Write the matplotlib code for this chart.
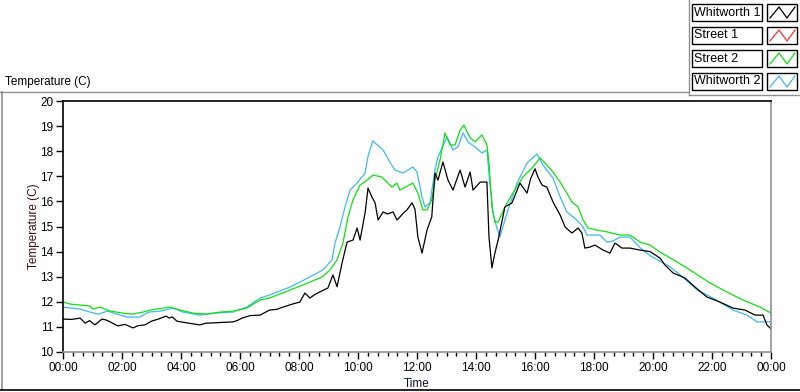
import numpy as np
import matplotlib
matplotlib.use("Agg")
import matplotlib.pyplot as plt
from matplotlib.lines import Line2D
from matplotlib.patches import Rectangle

# hours since midnight, temperature (C)
w1_hours = [0.0, 0.3, 0.58, 0.75, 0.9, 1.08, 1.32, 1.45, 1.6, 1.86, 2.1, 2.37, 2.55, 2.78, 3.0,
            3.2, 3.5, 3.6, 3.7, 3.86, 4.2, 4.64, 4.85, 5.1, 5.4, 5.76, 5.9, 6.07, 6.34, 6.68,
            7.0, 7.25, 7.46, 7.75, 8.03, 8.2, 8.37, 8.55, 8.7, 8.98, 9.15, 9.29, 9.46, 9.63,
            9.83, 9.97, 10.07, 10.24, 10.34, 10.47, 10.58, 10.68, 10.85, 11.0, 11.19, 11.32,
            11.42, 11.55, 11.66, 11.83, 11.93, 12.03, 12.17, 12.34, 12.5, 12.61, 12.71, 12.88,
            13.05, 13.22, 13.46, 13.63, 13.8, 13.9, 14.14, 14.37, 14.44, 14.54, 14.64, 14.75,
            14.98, 15.22, 15.49, 15.73, 15.85, 16.0, 16.1, 16.24, 16.4, 16.61, 16.85, 17.02,
            17.25, 17.46, 17.59, 17.69, 17.86, 18.03, 18.31, 18.54, 18.71, 18.95, 19.22, 19.56,
            19.9, 20.24, 20.4, 20.68, 21.08, 21.42, 21.83, 22.27, 22.71, 23.12, 23.46, 23.73,
            23.86, 24.0]
w1_temp = [11.31, 11.3, 11.35, 11.15, 11.25, 11.08, 11.31, 11.28, 11.2, 11.04, 11.1, 10.96, 11.05,
           11.08, 11.23, 11.3, 11.43, 11.35, 11.4, 11.23, 11.16, 11.08, 11.15, 11.16, 11.18, 11.2,
           11.25, 11.35, 11.45, 11.47, 11.67, 11.7, 11.79, 11.9, 11.99, 12.35, 12.15, 12.3, 12.39,
           12.55, 13.07, 12.6, 13.55, 14.38, 14.46, 14.94, 14.46, 15.54, 16.53, 16.18, 15.94,
           15.26, 15.58, 15.5, 15.58, 15.26, 15.38, 15.55, 15.66, 15.94, 15.7, 14.58, 13.94,
           14.86, 15.38, 17.13, 16.85, 17.57, 16.85, 16.45, 17.25, 16.57, 17.17, 16.45, 16.77,
           16.77, 14.58, 13.35, 13.94, 14.46, 15.78, 15.94, 16.73, 16.33, 16.9, 17.3, 16.97,
           16.65, 16.57, 15.98, 15.46, 14.98, 14.74, 14.94, 14.74, 14.14, 14.18, 14.26, 14.06,
           13.94, 14.34, 14.14, 14.14, 14.06, 14.0, 13.74, 13.47, 13.15, 12.95, 12.59, 12.19,
           11.99, 11.75, 11.67, 11.47, 11.47, 11.08, 10.92]

w2_hours = [0.0, 0.58, 0.92, 1.2, 1.5, 2.17, 2.6, 2.9, 3.3, 3.73, 4.07, 4.64, 5.1, 5.76, 6.23,
            6.68, 7.0, 7.7, 8.37, 8.81, 9.12, 9.22, 9.39, 9.56, 9.73, 9.97, 10.24, 10.34, 10.5,
            10.85, 11.08, 11.25, 11.53, 11.86, 12.0, 12.17, 12.27, 12.44, 12.61, 12.71, 13.02,
            13.22, 13.39, 13.56, 13.73, 13.97, 14.2, 14.37, 14.47, 14.58, 14.71, 14.81, 15.05,
            15.39, 15.73, 16.07, 16.27, 16.61, 16.85, 17.08, 17.42, 17.63, 17.76, 18.2, 18.44,
            18.64, 18.88, 19.22, 19.56, 19.9, 20.58, 21.0, 21.5, 22.03, 22.71, 23.19, 23.53, 24.0]
w2_temp = [11.79, 11.71, 11.59, 11.51, 11.63, 11.39, 11.39, 11.59, 11.63, 11.75, 11.59, 11.47,
           11.55, 11.59, 11.79, 12.15, 12.27, 12.59, 12.99, 13.27, 13.67, 14.34, 14.98, 15.78,
           16.45, 16.73, 17.13, 17.8, 18.41, 18.05, 17.57, 17.25, 17.13, 17.37, 17.17, 16.18,
           15.78, 15.94, 17.25, 17.77, 18.57, 18.05, 18.17, 18.73, 18.37, 18.17, 17.93, 18.05,
           16.73, 15.54, 14.94, 14.58, 15.54, 16.73, 17.53, 17.89, 17.45, 16.93, 16.18, 15.58,
           15.26, 14.98, 14.66, 14.66, 14.38, 14.42, 14.58, 14.58, 14.16, 13.84, 13.39, 12.99,
           12.47, 12.15, 11.67, 11.47, 11.2, 11.2]

s2_hours = [0.0, 0.24, 0.92, 1.0, 1.25, 1.6, 2.03, 2.37, 2.71, 2.95, 3.63, 3.97, 4.41, 4.88,
            5.32, 5.76, 6.23, 6.68, 7.0, 7.7, 8.3, 8.78, 9.05, 9.29, 9.49, 9.66, 9.83, 10.07,
            10.31, 10.51, 10.81, 10.98, 11.15, 11.32, 11.42, 11.86, 12.03, 12.2, 12.34, 12.5,
            12.61, 12.78, 12.95, 13.12, 13.29, 13.46, 13.59, 13.8, 13.97, 14.2, 14.37, 14.44,
            14.54, 14.64, 14.75, 14.98, 15.25, 15.59, 15.93, 16.17, 16.4, 16.61, 16.85, 17.08,
            17.25, 17.46, 17.63, 17.8, 18.1, 18.47, 18.88, 19.22, 19.56, 19.9, 20.24, 20.81,
            21.36, 21.93, 22.51, 23.05, 23.63, 24.0]
s2_temp = [11.99, 11.91, 11.83, 11.71, 11.79, 11.63, 11.55, 11.51, 11.59, 11.67, 11.79, 11.67,
           11.55, 11.51, 11.59, 11.63, 11.75, 12.07, 12.15, 12.47, 12.75, 12.99, 13.27, 13.67,
           14.34, 15.38, 16.06, 16.65, 16.85, 17.05, 16.97, 16.77, 16.57, 16.73, 16.45, 16.73,
           16.33, 15.66, 15.66, 16.06, 16.85, 17.65, 18.73, 18.25, 18.25, 18.84, 19.04, 18.53,
           18.37, 18.65, 18.25, 17.53, 15.78, 15.18, 15.18, 15.78, 16.33, 16.97, 17.37, 17.73,
           17.45, 17.17, 16.77, 16.33, 15.98, 15.78, 15.26, 14.94, 14.86, 14.78, 14.66, 14.66,
           14.38, 14.26, 13.98, 13.59, 13.19, 12.75, 12.39, 12.07, 11.79, 11.55]

# Street 1 is not visible in the picture
s1_hours = []
s1_temp = []

names = ["Whitworth 1", "Street 1", "Street 2", "Whitworth 2"]
colors = ["#000000", "#ff3030", "#10e010", "#40b8f0"]

tick_hours = list(range(0, 25, 2))
tick_labels = ["%02d:00" % (h % 24) for h in tick_hours]
yticks = list(range(10, 21))

plt.rcParams["font.family"] = ["Liberation Sans", "DejaVu Sans"]
W, H = 800, 392
fig = plt.figure(figsize=(W / 100, H / 100), dpi=100)
fig.patch.set_facecolor("white")

ax = fig.add_axes([63 / W, 1 - 352 / H, (771 - 63) / W, (352 - 101) / H])
ax.plot(w2_hours, w2_temp, color=colors[3], lw=0.9)
ax.plot(s2_hours, s2_temp, color=colors[2], lw=0.9)
ax.plot(s1_hours, s1_temp, color=colors[1], lw=0.9)
ax.plot(w1_hours, w1_temp, color=colors[0], lw=0.9)

ax.set_xlim(0, 24)
ax.set_ylim(10, 20)
ax.set_xticks(tick_hours)
ax.set_xticklabels(tick_labels)
ax.set_xticks(np.arange(0, 24.01, 1 / 3), minor=True)
ax.set_yticks(yticks)
ax.tick_params(axis="both", labelsize=8.5, length=5, width=1, color="black", pad=2)
ax.tick_params(axis="x", which="minor", length=3, width=1)
ax.spines["left"].set_color("black")
ax.spines["top"].set_color("black")
ax.spines["right"].set_color("#909090")
ax.spines["bottom"].set_color("#909090")
for s in ax.spines.values():
    s.set_linewidth(1.2)
ax.set_xlabel("Time", fontsize=8.5, color="#101030", labelpad=3)
ax.set_ylabel("Temperature (C)", fontsize=8.5, color="#401010", labelpad=0)

# frame around the chart
fig.add_artist(Line2D([0, 689 / W], [1 - 92 / H] * 2, color="#909090", lw=1))
fig.add_artist(Line2D([1.5 / W] * 2, [1 - 92 / H, 1 - 390 / H], color="#909090", lw=1.2))
fig.add_artist(Line2D([0, 1], [1 - 390 / H] * 2, color="black", lw=1.2))
fig.add_artist(Line2D([689 / W] * 2, [1, 1 - 95 / H], color="#909090", lw=1))
fig.add_artist(Line2D([689 / W, 1], [1 - 95 / H] * 2, color="#909090", lw=1))
fig.text(5 / W, 1 - 82 / H, "Temperature (C)", fontsize=8.5, va="center", ha="left")

# legend
for i, (name, c) in enumerate(zip(names, colors)):
    top = 4 + i * 23
    bot = top + 17
    fig.add_artist(Rectangle((692 / W, 1 - bot / H), 70 / W, 17 / H, fill=False,
                             edgecolor="black", lw=1))
    fig.text(694 / W, 1 - (top + 8.5) / H, name, fontsize=9, va="center", ha="left")
    fig.add_artist(Rectangle((767 / W, 1 - bot / H), 30 / W, 17 / H, fill=False,
                             edgecolor="black", lw=1))
    zx = np.array([770, 779, 787, 795]) / W
    zy = 1 - np.array([bot - 3, top + 3, bot - 3, top + 3]) / H
    fig.add_artist(Line2D(zx, zy, color=c, lw=0.9))

fig.savefig("out.png", dpi=100)
